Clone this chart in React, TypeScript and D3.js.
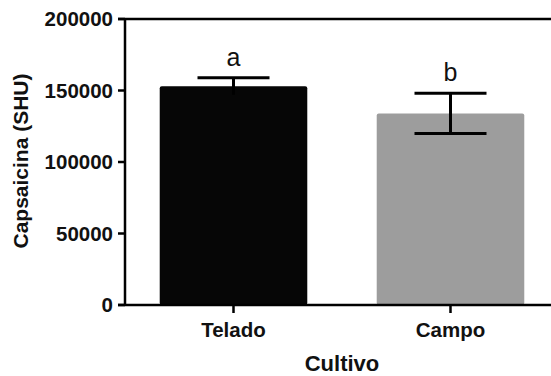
import React from "react";
import * as d3 from "d3";

const categories = ["Telado", "Campo"];
const means = [153000, 134000];
const errors = [6000, 14000];
const letters = ["a", "b"];
const colors = ["#060606", "#9d9d9d"];
const yTicks = [0, 50000, 100000, 150000, 200000];

export default function App() {
  const W = 551, H = 376;
  const y = d3.scaleLinear().domain([0, 200000]).range([305, 19]);
  const x = d3.scaleBand<string>().domain(categories).range([125, 559]).paddingInner(0.32).paddingOuter(0.16);
  const font = "'Liberation Sans', Arial, sans-serif";
  const bw = x.bandwidth();
  const capW = 72;
  return (
    <svg width={W} height={H} style={{ position: "absolute", left: 0, top: 0, background: "#fff" }} fontFamily={font}>
      <rect x={0} y={0} width={W} height={H} fill="#fff" />
      {categories.map((c, i) => {
        const x0 = x(c)!;
        const cx = x0 + bw / 2;
        const top = y(means[i]);
        const eTop = y(means[i] + errors[i]);
        const eBot = y(means[i] - errors[i]);
        return (
          <g key={c}>
            <rect x={x0} y={top} width={bw} height={y(0) - top} fill={colors[i]} rx={2} />
            <line x1={cx} x2={cx} y1={eTop} y2={eBot} stroke="#000" strokeWidth={3} />
            <line x1={cx - capW / 2} x2={cx + capW / 2} y1={eTop} y2={eTop} stroke="#000" strokeWidth={3} />
            <line x1={cx - capW / 2} x2={cx + capW / 2} y1={eBot} y2={eBot} stroke={i === 0 ? "none" : "#000"} strokeWidth={3} />
            <text x={cx} y={eTop - 12} textAnchor="middle" fontSize={25} fill="#111">{letters[i]}</text>
            <line x1={cx} x2={cx} y1={y(0)} y2={y(0) + 8} stroke="#000" strokeWidth={2.5} />
            <text x={cx} y={337} textAnchor="middle" fontSize={20.5} fontWeight="bold" fill="#111">{c}</text>
          </g>
        );
      })}
      <line x1={125} x2={125} y1={y(200000)} y2={y(0) + 1} stroke="#000" strokeWidth={2.5} />
      <line x1={118} x2={W} y1={y(0)} y2={y(0)} stroke="#000" strokeWidth={2.5} />
      <line x1={118} x2={W} y1={y(200000)} y2={y(200000)} stroke="#000" strokeWidth={2.5} />
      {yTicks.map((t) => (
        <g key={t}>
          <line x1={118} x2={125} y1={y(t)} y2={y(t)} stroke="#000" strokeWidth={2.5} />
          <text x={113} y={y(t)} dy="0.36em" textAnchor="end" fontSize={20.5} fontWeight="bold" fill="#111">{t}</text>
        </g>
      ))}
      <text transform="translate(28,161) rotate(-90)" textAnchor="middle" fontSize={21} fontWeight="bold" fill="#111">Capsaicina (SHU)</text>
      <text x={342} y={371} textAnchor="middle" fontSize={22} fontWeight="bold" fill="#111">Cultivo</text>
    </svg>
  );
}
